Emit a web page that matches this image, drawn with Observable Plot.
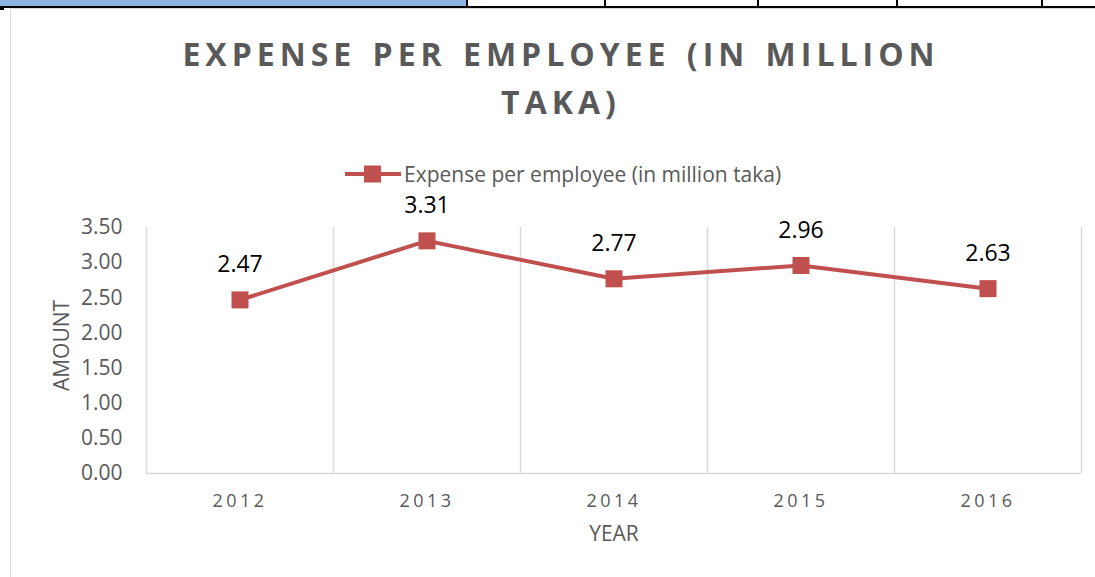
<!DOCTYPE html>
<html>
<head>
<meta charset="utf-8">
<script src="https://cdn.jsdelivr.net/npm/d3@7"></script>
<script src="https://cdn.jsdelivr.net/npm/@observablehq/plot@0.6"></script>
<style>
  html, body { margin: 0; padding: 0; background: #fff; }
  #wrap { position: relative; width: 1095px; height: 577px; overflow: hidden; font-family: "Open Sans", Lato, sans-serif; }
  .abs { position: absolute; }
  #chart svg { position: absolute; left: 0; top: 0; }
  #chart g[aria-label="x-axis tick label"] text { letter-spacing: 3.5px; }
</style>
</head>
<body>
<div id="wrap">
  <div class="abs" style="left:10px; top:8px; width:1200px; height:700px; border:1px solid #d9d9d9; box-sizing:border-box;"></div>
  <div id="chart" class="abs" style="left:0; top:0; width:1095px; height:577px;"></div>
  <!-- spreadsheet strip -->
  <div class="abs" style="left:0; top:0; width:467px; height:6px; background:#8DB4E2;"></div>
  <div class="abs" style="left:0; top:6px; width:1095px; height:2px; background:#000;"></div>
  <div class="abs" style="left:0; top:6px; width:4px; height:4px; background:#000;"></div>
  <div class="abs" style="left:466px; top:0; width:2px; height:7px; background:#000;"></div>
  <div class="abs" style="left:604px; top:0; width:2px; height:7px; background:#000;"></div>
  <div class="abs" style="left:757px; top:0; width:2px; height:7px; background:#000;"></div>
  <div class="abs" style="left:896px; top:0; width:2px; height:7px; background:#000;"></div>
  <div class="abs" style="left:1041px; top:0; width:2px; height:7px; background:#000;"></div>
  <div id="title" class="abs"></div>
  <div id="legend" class="abs"></div>
</div>
<script>
const years = [2012, 2013, 2014, 2015, 2016];
const values = [2.47, 3.31, 2.77, 2.96, 2.63];
const yTicks = [0, 0.5, 1, 1.5, 2, 2.5, 3, 3.5];
const bandEdges = [2011.5, 2012.5, 2013.5, 2014.5, 2015.5, 2016.5];
const titleLines = ["EXPENSE PER EMPLOYEE (IN MILLION", "TAKA)"];
const seriesName = "Expense per employee (in million taka)";
const xLabel = "YEAR";
const yLabel = "AMOUNT";

const data = years.map((y, i) => ({year: y, value: values[i]}));
const red = "#C0504D";
const gray = "#595959";
const font = "'Open Sans', Lato, sans-serif";

const chart = Plot.plot({
  width: 1095,
  height: 577,
  marginLeft: 146,
  marginRight: 14,
  marginTop: 227,
  marginBottom: 104,
  style: {fontFamily: font, background: "transparent", color: gray},
  x: {domain: [bandEdges[0], bandEdges[bandEdges.length - 1]]},
  y: {domain: [0, 3.5]},
  marks: [
    Plot.ruleX(bandEdges, {stroke: "#d9d9d9", strokeWidth: 1.5}),
    Plot.ruleY([0], {stroke: "#d9d9d9", strokeWidth: 1.5}),
    Plot.axisY({ticks: yTicks, tickFormat: d3.format(".2f"), tickSize: 0, tickPadding: 24, fontSize: 21, fill: gray, label: null}),
    Plot.axisX({ticks: years, tickFormat: d => String(d), tickSize: 0, tickPadding: 21, fontSize: 18, fill: gray, label: null}),
    Plot.text([yLabel], {frameAnchor: "left", textAnchor: "middle", dx: -84, dy: -5, rotate: -90, fontSize: 21, fill: gray}),
    Plot.text([xLabel], {frameAnchor: "bottom", dy: 67, fontSize: 21, fill: gray}),
    Plot.line(data, {x: "year", y: "value", stroke: red, strokeWidth: 4}),
    Plot.dot(data, {x: "year", y: "value", symbol: "square", r: 9.6, fill: red, stroke: "none"}),
    Plot.text(data, {x: "year", y: "value", text: d => d.value.toFixed(2), dy: -35, fontSize: 23, fill: "#000"})
  ]
});
document.getElementById("chart").appendChild(chart);

const t = document.getElementById("title");
t.style.cssText = "left:161px; top:30px; width:800px; text-align:center; font-weight:bold; font-size:32px; line-height:48px; letter-spacing:5px; word-spacing:3px; color:" + gray + ";";
t.innerHTML = titleLines.join("<br>");

const lg = document.getElementById("legend");
lg.style.cssText = "left:345px; top:160px; height:28px; display:flex; align-items:center; font-size:21px; color:" + gray + ";";
lg.innerHTML = '<svg width="58" height="28"><line x1="0" x2="56" y1="14" y2="14" stroke="' + red + '" stroke-width="4"/><rect x="19" y="5.5" width="17" height="17" fill="' + red + '"/></svg><span style="margin-left:1px">' + seriesName + '</span>';
</script>
</body>
</html>
